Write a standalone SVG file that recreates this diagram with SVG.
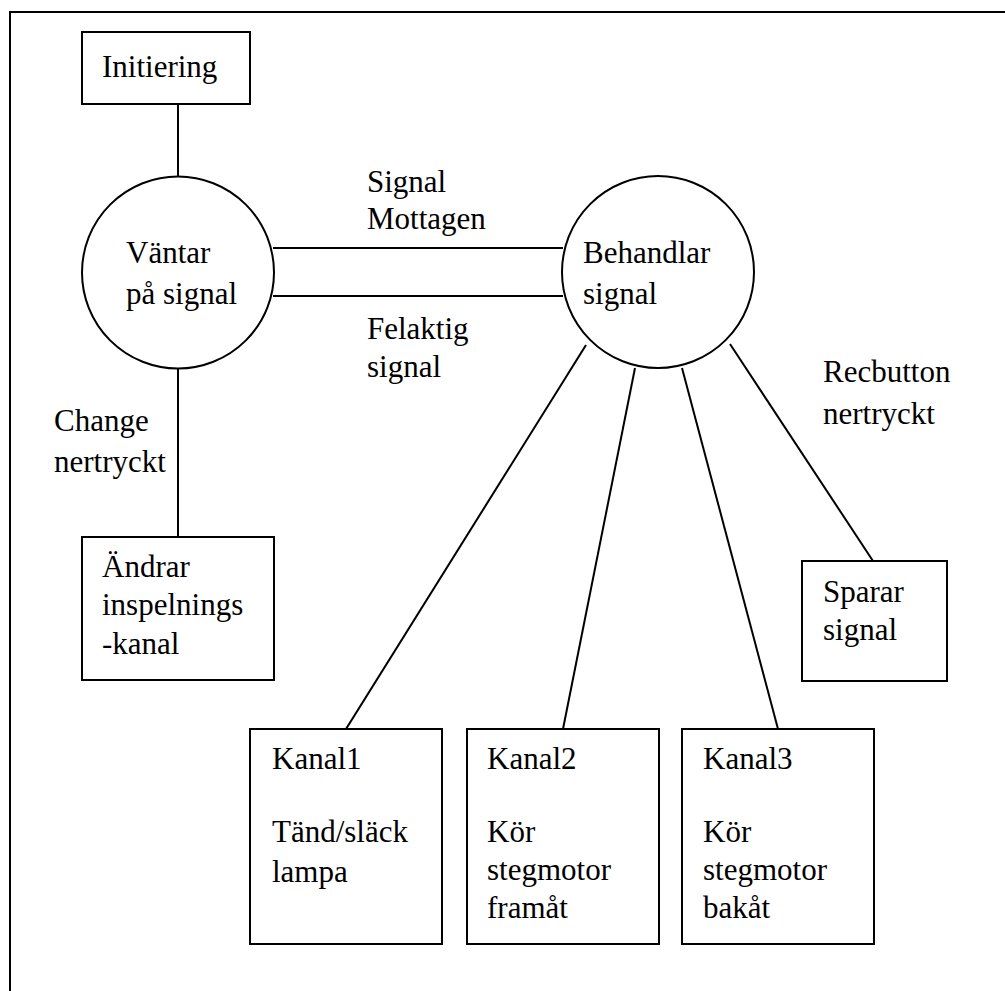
<svg xmlns="http://www.w3.org/2000/svg" width="1005" height="991" viewBox="0 0 1005 991">
<style>
.s{fill:#fff;stroke:#000;stroke-width:2}
.c line{stroke:#000;stroke-width:2}
text{font-size:31px;fill:#000}
</style>
<defs><clipPath id="clipR"><rect x="800" y="340" width="153" height="100"/></clipPath></defs>
<rect width="1005" height="991" fill="#fff"/>
<g id="frame"><path d="M10,991 V12 H1005" fill="none" stroke="#000" stroke-width="2"/></g>
<g id="connectors" class="c">
<line x1="178" y1="104" x2="178" y2="176"/>
<line x1="178" y1="369" x2="178" y2="537"/>
<line x1="273" y1="248" x2="563" y2="248"/>
<line x1="273" y1="296" x2="563" y2="296"/>
<line x1="586" y1="345" x2="346" y2="729"/>
<line x1="635" y1="368" x2="563" y2="729"/>
<line x1="682" y1="368" x2="778" y2="729"/>
<line x1="730" y1="344" x2="873" y2="561"/>
</g>
<g id="labels" style="font-family:'Times New Roman'">
<text x="367" y="192">Signal</text>
<text x="367" y="229">Mottagen</text>
<text x="367" y="339">Felaktig</text>
<text x="367" y="377">signal</text>
<text x="54" y="431">Change</text>
<text x="54" y="472">nertryckt</text>
<g clip-path="url(#clipR)"><text x="823" y="382">Recbutton</text>
<text x="823" y="424">nertryckt</text></g>
</g>
<g id="initiering" style="font-family:Tinos"><rect class="s" x="82" y="32" width="168" height="72"/><text x="102" y="77">Initiering</text></g>
<g id="vantar" style="font-family:'Liberation Serif'"><circle class="s" cx="178" cy="272.5" r="96"/><text x="126" y="263">Väntar</text><text x="126" y="304">på signal</text></g>
<g id="behandlar" style="font-family:serif"><circle class="s" cx="658" cy="272" r="96"/><text x="583" y="263">Behandlar</text><text x="583" y="304">signal</text></g>
<g id="andrar" style="font-family:'Liberation Serif'"><rect class="s" x="82" y="537" width="192" height="143"/><text x="102" y="577">Ändrar</text><text x="102" y="615">inspelnings</text><text x="102" y="654">-kanal</text></g>
<g id="sparar" style="font-family:'Times New Roman'"><rect class="s" x="802" y="561" width="145" height="120"/><text x="823" y="602">Sparar</text><text x="823" y="640">signal</text></g>
<g id="kanal1" style="font-family:'Liberation Serif',serif"><rect class="s" x="250" y="729" width="192" height="215"/><text x="272" y="769">Kanal1</text><text x="272" y="842">Tänd/släck</text><text x="272" y="882">lampa</text></g>
<g id="kanal2" style="font-family:Tinos,serif"><rect class="s" x="467" y="729" width="192" height="215"/><text x="487" y="769">Kanal2</text><text x="487" y="842">Kör</text><text x="487" y="880">stegmotor</text><text x="487" y="918">framåt</text></g>
<g id="kanal3" style="font-family:'Times New Roman',serif"><rect class="s" x="682" y="729" width="192" height="215"/><text x="703" y="769">Kanal3</text><text x="703" y="842">Kör</text><text x="703" y="880">stegmotor</text><text x="703" y="918">bakåt</text></g>
</svg>
